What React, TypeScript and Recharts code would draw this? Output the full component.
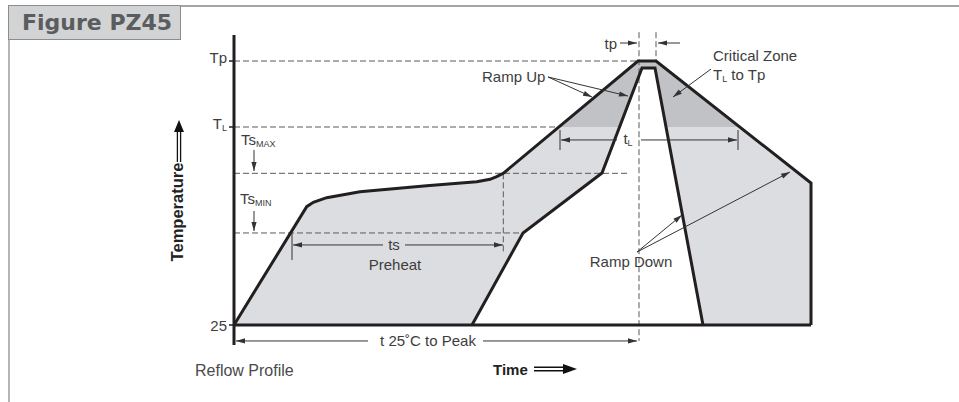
import React from "react";
import {
  ComposedChart,
  Area,
  Line,
  XAxis,
  YAxis,
  ReferenceLine,
  ReferenceDot,
} from "recharts";

// reflow profile outline: time (s) vs temperature (°C, schematic scale)
const outerTime = [0, 36.35, 39.65, 46.35, 63, 96.35, 121.35, 128, 131.35, 134.65, 202, 211, 288.5, 288.5];
const outerTemp = [25, 123.6, 127.25, 131.1, 136.1, 141.1, 144.4, 146.4, 148.6, 151.4, 245, 245, 143.3, 25];

const innerTime = [119, 144.5, 184, 204, 210.5, 234.5];
const innerTemp = [25, 101.7, 151.7, 239.2, 239.2, 25];

// critical zone (above TL) between the two profiles
const zoneTime = [162.5, 202, 211, 252.5];
const zoneTemp = [190, 245, 245, 190];

// temperature levels
const T_ROOM = 25;
const TS_MIN = 101.7;
const TS_MAX = 151.4;
const T_L = 190;
const T_P = 245;
const yTicks = [T_ROOM, T_L, T_P];
const yTickNames = ["25", "TL", "Tp"];

const rows = [
  ...outerTime.map((t, i) => ({ t, outer: outerTemp[i] })),
  ...zoneTime.map((t, i) => ({ t, zone: zoneTemp[i] })),
  ...innerTime.map((t, i) => ({ t, inner: innerTemp[i] })),
];

const FONT = "'Liberation Sans', Arial, sans-serif";
const TEXT = "#3d3d3d";
const INK = "#231f20";
const ARROW = "#333";
const DASH = "#5a5a5a";

const X_DOMAIN = [0, 290];
const Y_DOMAIN = [25 - 20 / 1.2, 25 + 290 / 1.2];

function head(tx: number, ty: number, fx: number, fy: number, key: string) {
  const a = Math.atan2(ty - fy, tx - fx);
  const L = 9;
  const W = 2.6;
  const bx = tx - L * Math.cos(a);
  const by = ty - L * Math.sin(a);
  const nx = -Math.sin(a) * W;
  const ny = Math.cos(a) * W;
  return (
    <polygon
      key={key}
      points={`${tx},${ty} ${bx + nx},${by + ny} ${bx - nx},${by - ny}`}
      fill={ARROW}
    />
  );
}

function arrow(mode: "start" | "end" | "both" | "none") {
  return (p: any) => {
    const { x1, y1, x2, y2 } = p;
    return (
      <g>
        <line x1={x1} y1={y1} x2={x2} y2={y2} stroke={ARROW} strokeWidth={1} />
        {(mode === "start" || mode === "both") && head(x1, y1, x2, y2, "s")}
        {(mode === "end" || mode === "both") && head(x2, y2, x1, y1, "e")}
      </g>
    );
  };
}

function note(
  content: React.ReactNode,
  anchor: "start" | "middle" | "end" = "start",
  size = 15
) {
  return (p: any) => (
    <text
      x={p.cx}
      y={p.cy}
      textAnchor={anchor}
      dominantBaseline="central"
      fontFamily={FONT}
      fontSize={size}
      fill={TEXT}
    >
      {content}
    </text>
  );
}

const sub = (s: string) => (
  <tspan fontSize={9} dy={5}>
    {s}
  </tspan>
);

function TempTick(props: any) {
  const { x, y, payload } = props;
  const name = yTickNames[yTicks.indexOf(payload.value)];
  const dy = payload.value === T_ROOM ? 0 : -4;
  return (
    <text
      x={x}
      y={y + dy}
      textAnchor="end"
      dominantBaseline="central"
      fontFamily={FONT}
      fontSize={15}
      fill={TEXT}
    >
      {name === "TL" ? (
        <>
          <tspan>T</tspan>
          {sub("L")}
        </>
      ) : (
        name
      )}
    </text>
  );
}

function TemperatureLabel(props: any) {
  const { viewBox } = props;
  const left = viewBox.x + viewBox.width;
  const cx = left - 57;
  const cy = viewBox.y + 177;
  const ax = cx + 2;
  return (
    <g>
      <text
        x={cx}
        y={cy}
        transform={`rotate(-90 ${cx} ${cy})`}
        textAnchor="middle"
        dominantBaseline="central"
        fontFamily={FONT}
        fontWeight={700}
        fontSize={16.5}
        fill="#222"
      >
        Temperature
      </text>
      <line x1={ax - 1.6} y1={viewBox.y + 92} x2={ax - 1.6} y2={viewBox.y + 127} stroke="#111" strokeWidth={1.3} />
      <line x1={ax + 1.6} y1={viewBox.y + 92} x2={ax + 1.6} y2={viewBox.y + 127} stroke="#111" strokeWidth={1.3} />
      <polygon
        points={`${ax},${viewBox.y + 85} ${ax - 5},${viewBox.y + 97} ${ax + 5},${viewBox.y + 97}`}
        fill="#111"
      />
    </g>
  );
}

function TimeLabel(props: any) {
  const { viewBox } = props;
  const x = viewBox.x + 259;
  const y = viewBox.y + 24;
  return (
    <g>
      <text
        x={x}
        y={y}
        dominantBaseline="central"
        fontFamily={FONT}
        fontWeight={700}
        fontSize={15}
        fill="#222"
      >
        Time
      </text>
      <line x1={x + 41} y1={y - 1.8} x2={x + 76} y2={y - 1.8} stroke="#111" strokeWidth={1.4} />
      <line x1={x + 41} y1={y + 1.8} x2={x + 76} y2={y + 1.8} stroke="#111" strokeWidth={1.4} />
      <polygon points={`${x + 84},${y} ${x + 70},${y - 5} ${x + 70},${y + 5}`} fill="#111" />
    </g>
  );
}

const dashed = { stroke: DASH, strokeDasharray: "6 3", strokeWidth: 1 };

export default function App() {
  return (
    <div
      style={{
        position: "absolute",
        left: 0,
        top: 0,
        width: 959,
        height: 402,
        background: "#fff",
        overflow: "hidden",
      }}
    >
      <div style={{ position: "absolute", left: 8, top: 5, width: 951, height: 2, background: "#a5a5a5" }} />
      <div style={{ position: "absolute", left: 8, top: 5, width: 1.5, height: 397, background: "#b5b5b5" }} />
      <div
        style={{
          position: "absolute",
          left: 8,
          top: 5,
          width: 173,
          height: 35,
          background: "#d1d3d4",
          border: "1px solid #8c8c8c",
          boxSizing: "border-box",
          fontFamily: "'DejaVu Sans', sans-serif",
          fontWeight: 700,
          fontSize: 22,
          color: "#5b5c5e",
          lineHeight: "34px",
          paddingLeft: 13,
        }}
      >
        Figure PZ45
      </div>
      <div
        style={{
          position: "absolute",
          left: 195,
          top: 362,
          fontFamily: FONT,
          fontSize: 16,
          color: "#4a4a4a",
        }}
      >
        Reflow Profile
      </div>
      <div style={{ position: "absolute", left: 0, top: 0 }}>
        <ComposedChart
          width={959}
          height={402}
          data={rows}
          margin={{ top: 35, right: 145, bottom: 56, left: 233 }}
        >
          <XAxis
            type="number"
            dataKey="t"
            domain={X_DOMAIN}
            height={1}
            axisLine={false}
            tickLine={false}
            tick={false}
            label={{ content: TimeLabel }}
          />
          <YAxis
            type="number"
            domain={Y_DOMAIN}
            ticks={yTicks}
            width={1}
            tickSize={5}
            axisLine={{ stroke: INK, strokeWidth: 3 }}
            tickLine={{ stroke: INK, strokeWidth: 1.5 }}
            tick={TempTick}
            label={{ content: TemperatureLabel }}
          />

          <Area
            dataKey="outer"
            type="linear"
            baseValue={T_ROOM}
            fill="#dcdde0"
            fillOpacity={1}
            stroke="none"
            connectNulls
            isAnimationActive={false}
          />
          <Area
            dataKey="zone"
            type="linear"
            baseValue={T_L}
            fill="#c1c2c5"
            fillOpacity={1}
            stroke="none"
            connectNulls
            isAnimationActive={false}
          />
          <Area
            dataKey="inner"
            type="linear"
            baseValue={T_ROOM}
            fill="#ffffff"
            fillOpacity={1}
            stroke="none"
            connectNulls
            isAnimationActive={false}
          />

          {/* level guides */}
          <ReferenceLine segment={[{ x: 0, y: T_P }, { x: 202, y: T_P }]} {...dashed} ifOverflow="visible" />
          <ReferenceLine segment={[{ x: 0, y: T_L }, { x: 162.5, y: T_L }]} {...dashed} ifOverflow="visible" />
          <ReferenceLine segment={[{ x: 0, y: TS_MAX }, { x: 197, y: TS_MAX }]} {...dashed} ifOverflow="visible" />
          <ReferenceLine segment={[{ x: 0, y: TS_MIN }, { x: 144.5, y: TS_MIN }]} {...dashed} ifOverflow="visible" />
          <ReferenceLine segment={[{ x: 134.65, y: TS_MAX }, { x: 134.65, y: 85 }]} {...dashed} ifOverflow="visible" />
          <ReferenceLine segment={[{ x: 202.5, y: 269 }, { x: 202.5, y: 11.7 }]} {...dashed} ifOverflow="visible" />
          <ReferenceLine segment={[{ x: 211, y: 269 }, { x: 211, y: T_P }]} {...dashed} ifOverflow="visible" />

          {/* base line */}
          <ReferenceLine
            segment={[{ x: 0, y: T_ROOM }, { x: 288.5, y: T_ROOM }]}
            stroke={INK}
            strokeWidth={3}
            ifOverflow="visible"
          />

          <Line
            dataKey="outer"
            type="linear"
            stroke={INK}
            strokeWidth={3}
            dot={false}
            connectNulls
            isAnimationActive={false}
          />
          <Line
            dataKey="inner"
            type="linear"
            stroke={INK}
            strokeWidth={3}
            dot={false}
            connectNulls
            isAnimationActive={false}
          />

          {/* Ts max / min arrows */}
          <ReferenceLine segment={[{ x: 10, y: 170.8 }, { x: 10, y: 153.3 }]} shape={arrow("end")} ifOverflow="visible" />
          <ReferenceLine segment={[{ x: 10, y: 120 }, { x: 10, y: 103.3 }]} shape={arrow("end")} ifOverflow="visible" />

          {/* ts preheat */}
          <ReferenceLine segment={[{ x: 29, y: 101.7 }, { x: 29, y: 79.2 }]} shape={arrow("none")} ifOverflow="visible" />
          <ReferenceLine segment={[{ x: 29.5, y: 91.7 }, { x: 74.5, y: 91.7 }]} shape={arrow("start")} ifOverflow="visible" />
          <ReferenceLine segment={[{ x: 85.5, y: 91.7 }, { x: 134.5, y: 91.7 }]} shape={arrow("end")} ifOverflow="visible" />

          {/* tL */}
          <ReferenceLine segment={[{ x: 163, y: 187.5 }, { x: 163, y: 170.8 }]} shape={arrow("none")} ifOverflow="visible" />
          <ReferenceLine segment={[{ x: 252, y: 187.5 }, { x: 252, y: 170.8 }]} shape={arrow("none")} ifOverflow="visible" />
          <ReferenceLine segment={[{ x: 163.5, y: 179.2 }, { x: 191.5, y: 179.2 }]} shape={arrow("start")} ifOverflow="visible" />
          <ReferenceLine segment={[{ x: 203.5, y: 179.2 }, { x: 251.5, y: 179.2 }]} shape={arrow("end")} ifOverflow="visible" />

          {/* t 25°C to peak */}
          <ReferenceLine segment={[{ x: 1, y: 11.7 }, { x: 67, y: 11.7 }]} shape={arrow("start")} ifOverflow="visible" />
          <ReferenceLine segment={[{ x: 124.5, y: 11.7 }, { x: 201.5, y: 11.7 }]} shape={arrow("end")} ifOverflow="visible" />

          {/* tp */}
          <ReferenceLine segment={[{ x: 193, y: 260 }, { x: 201.5, y: 260 }]} shape={arrow("end")} ifOverflow="visible" />
          <ReferenceLine segment={[{ x: 223, y: 260 }, { x: 212, y: 260 }]} shape={arrow("end")} ifOverflow="visible" />

          {/* ramp up */}
          <ReferenceLine segment={[{ x: 157, y: 231.7 }, { x: 179, y: 215 }]} shape={arrow("end")} ifOverflow="visible" />
          <ReferenceLine segment={[{ x: 157, y: 231.7 }, { x: 197, y: 215.8 }]} shape={arrow("end")} ifOverflow="visible" />

          {/* critical zone */}
          <ReferenceLine segment={[{ x: 238.5, y: 238.3 }, { x: 219.5, y: 215 }]} shape={arrow("end")} ifOverflow="visible" />

          {/* ramp down */}
          <ReferenceLine segment={[{ x: 201.5, y: 85.8 }, { x: 224, y: 116.7 }]} shape={arrow("end")} ifOverflow="visible" />
          <ReferenceLine segment={[{ x: 201.5, y: 85.8 }, { x: 278, y: 152.5 }]} shape={arrow("end")} ifOverflow="visible" />

          {/* text */}
          <ReferenceDot x={3.5} y={180} r={0} ifOverflow="visible" shape={note(<><tspan>Ts</tspan>{sub("MAX")}</>)} />
          <ReferenceDot x={3} y={131} r={0} ifOverflow="visible" shape={note(<><tspan>Ts</tspan>{sub("MIN")}</>)} />
          <ReferenceDot x={80} y={91.7} r={0} ifOverflow="visible" shape={note("ts", "middle")} />
          <ReferenceDot x={80.5} y={75.8} r={0} ifOverflow="visible" shape={note("Preheat", "middle")} />
          <ReferenceDot x={197} y={181} r={0} ifOverflow="visible" shape={note(<><tspan>t</tspan>{sub("L")}</>, "middle")} />
          <ReferenceDot x={97} y={11.7} r={0} ifOverflow="visible" shape={note("t 25˚C to Peak", "middle")} />
          <ReferenceDot x={191.5} y={260} r={0} ifOverflow="visible" shape={note("tp", "end")} />
          <ReferenceDot x={124} y={232.5} r={0} ifOverflow="visible" shape={note("Ramp Up")} />
          <ReferenceDot x={239.5} y={250} r={0} ifOverflow="visible" shape={note("Critical Zone")} />
          <ReferenceDot x={239.5} y={234} r={0} ifOverflow="visible" shape={note(<><tspan>T</tspan>{sub("L")}<tspan dy={-5}> to Tp</tspan></>)} />
          <ReferenceDot x={198.5} y={78.3} r={0} ifOverflow="visible" shape={note("Ramp Down", "middle")} />
        </ComposedChart>
      </div>
    </div>
  );
}
